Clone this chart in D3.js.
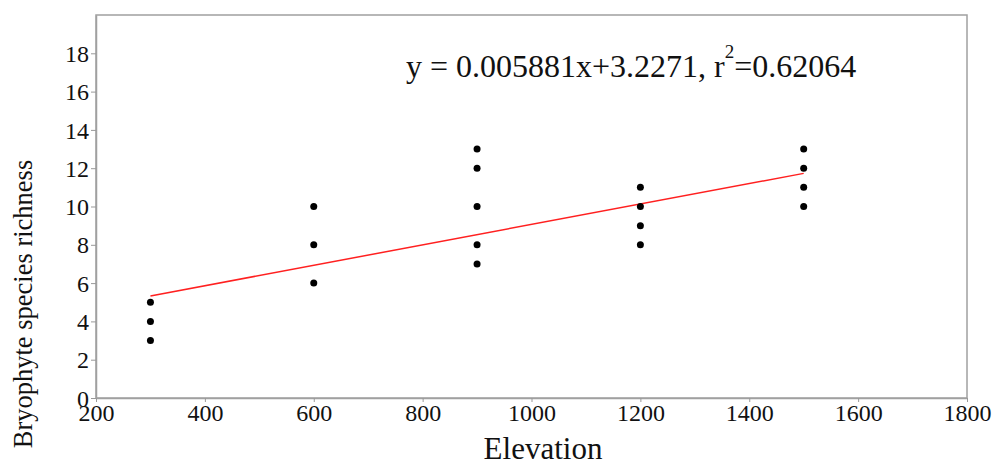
<!DOCTYPE html>
<html>
<head>
<meta charset="utf-8">
<script src="https://cdn.jsdelivr.net/npm/d3@7"></script>
<style>
  body { margin: 0; background: #fff; }
  text { font-family: "Liberation Serif", "Times New Roman", serif; fill: #111; }
</style>
</head>
<body>
<div id="chart-area"></div>
<script>
// data
var elevation = [300, 300, 300, 600, 600, 600, 900, 900, 900, 900, 900, 1200, 1200, 1200, 1200, 1500, 1500, 1500, 1500];
var richness  = [3, 4, 5, 6, 8, 10, 7, 8, 10, 12, 13, 8, 9, 10, 11, 10, 11, 12, 13];
var fitX = [300, 1500];
var fitY = [5.33, 11.73];
var xTicks = [200, 400, 600, 800, 1000, 1200, 1400, 1600, 1800];
var yTicks = [0, 2, 4, 6, 8, 10, 12, 14, 16, 18];

var width = 995, height = 466;
var padL = 96, padR = 967, padT = 15, padB = 398;

var svg = d3.select('#chart-area').append('svg')
  .attr('width', width)
  .attr('height', height);

var x = d3.scaleLinear().domain([200, 1800]).range([padL, padR]);
var y = d3.scaleLinear().domain([0, 20]).range([padB, padT]);

// frame
svg.append('rect')
  .attr('x', padL)
  .attr('y', padT)
  .attr('width', padR - padL)
  .attr('height', padB - padT)
  .attr('fill', 'none')
  .attr('stroke', '#a0a0a0')
  .attr('stroke-width', 1.5);

// axes
var xAxis = svg.append('g')
  .attr('transform', 'translate(0,' + padB + ')')
  .call(d3.axisBottom(x).tickValues(xTicks).tickFormat(d3.format('d')).tickSize(4).tickPadding(1).tickSizeOuter(0));
var yAxis = svg.append('g')
  .attr('transform', 'translate(' + padL + ',0)')
  .call(d3.axisLeft(y).tickValues(yTicks).tickFormat(d3.format('d')).tickSize(5).tickPadding(2).tickSizeOuter(0));

[xAxis, yAxis].forEach(function(a) {
  a.select('.domain').attr('stroke', '#a0a0a0').attr('stroke-width', 1.5);
  a.selectAll('.tick line').attr('stroke', '#999');
  a.selectAll('.tick text')
    .attr('fill', '#111')
    .style('font-family', '"Liberation Serif", "Times New Roman", serif')
    .style('font-size', '24px');
});
xAxis.selectAll('.tick text').attr('dy', '0.74em');
yAxis.selectAll('.tick text').attr('dy', '0.34em');

// regression line
var line = d3.line()
  .x(function(d) { return x(d); })
  .y(function(d, i) { return y(fitY[i]); });
svg.append('path')
  .attr('d', line(fitX))
  .attr('fill', 'none')
  .attr('stroke', '#ff2020')
  .attr('stroke-width', 1.5);

// points
svg.selectAll('circle.pt')
  .data(elevation)
  .enter().append('circle')
  .attr('class', 'pt')
  .attr('cx', function(d) { return x(d); })
  .attr('cy', function(d, i) { return y(richness[i]); })
  .attr('r', 3.5)
  .attr('fill', '#000');

// equation
var eq = svg.append('text')
  .attr('x', 406)
  .attr('y', 77)
  .style('font-size', '32px');
eq.append('tspan').text('y = 0.005881x+3.2271, r');
eq.append('tspan').attr('dy', -19).style('font-size', '19px').text('2');
eq.append('tspan').attr('dy', 19).text('=0.62064');

// axis titles
svg.append('text')
  .attr('x', 543)
  .attr('y', 459)
  .attr('text-anchor', 'middle')
  .style('font-size', '31px')
  .text('Elevation');

svg.append('text')
  .attr('transform', 'translate(32,304) rotate(-90)')
  .attr('text-anchor', 'middle')
  .style('font-size', '26.5px')
  .text('Bryophyte species richness');
</script>
</body>
</html>
